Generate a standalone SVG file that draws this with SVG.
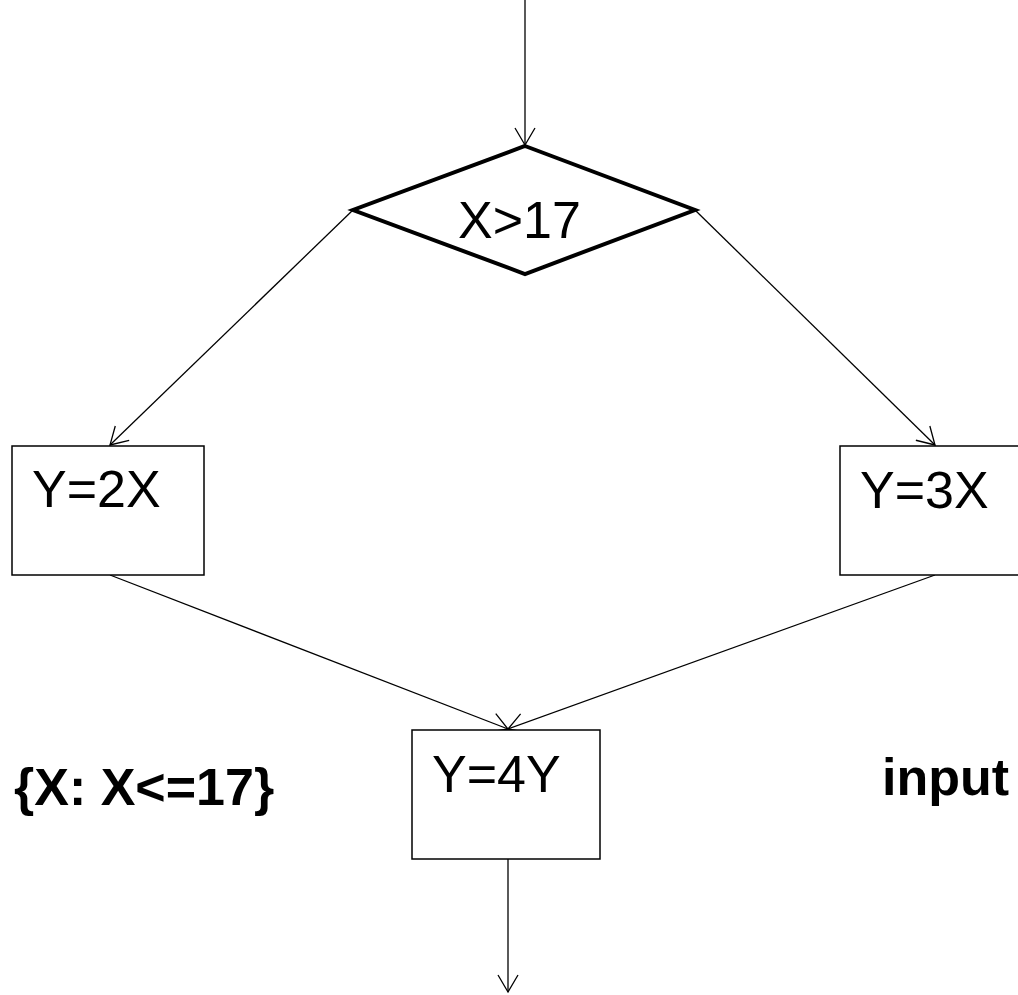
<svg xmlns="http://www.w3.org/2000/svg" width="1018" height="995" viewBox="0 0 1018 995">
<style>
.box{fill:#fff;stroke:#000;stroke-width:1.5}
.dia{fill:#fff;stroke:#000;stroke-width:4;stroke-linejoin:miter}
.con{fill:none;stroke:#000;stroke-width:1.3}
.t{font-family:"Liberation Sans",Arial,sans-serif;font-size:52px;fill:#000}
.b{font-family:"Liberation Sans",Arial,sans-serif;font-size:52px;font-weight:bold;fill:#000}
</style>
<defs>
<marker id="arr" markerUnits="userSpaceOnUse" markerWidth="40" markerHeight="40" viewBox="-20 -20 40 40" refX="0" refY="0" orient="auto" overflow="visible">
<path d="M-17,-10 L0,0 L-17,10" fill="none" stroke="#000" stroke-width="1.3"/>
</marker>
</defs>
<rect width="1018" height="995" fill="#fff"/>
<g id="connectors">
<line class="con" x1="525" y1="0" x2="525" y2="145" marker-end="url(#arr)"/>
<line class="con" x1="353" y1="210" x2="110" y2="445" marker-end="url(#arr)"/>
<line class="con" x1="695" y1="210" x2="935" y2="445" marker-end="url(#arr)"/>
<line class="con" x1="110" y1="575" x2="508" y2="729" marker-end="url(#arr)"/>
<line class="con" x1="935" y1="575" x2="508" y2="729" marker-end="url(#arr)"/>
<line class="con" x1="508" y1="859" x2="508" y2="992" marker-end="url(#arr)"/>
</g>
<g id="decision">
<polygon class="dia" points="525,146 695,210 525,274 353,210"/>
<text class="t" x="458" y="238">X&gt;17</text>
</g>
<g id="y2x">
<rect class="box" x="12" y="446" width="192" height="129"/>
<text class="t" x="32" y="507">Y=2X</text>
</g>
<g id="y3x">
<rect class="box" x="840" y="446" width="190" height="129"/>
<text class="t" x="860" y="508">Y=3X</text>
</g>
<g id="y4y">
<rect class="box" x="412" y="730" width="188" height="129"/>
<text class="t" x="432" y="792">Y=4Y</text>
</g>
<g id="labels">
<text class="b" x="14" y="805">{X: X&lt;=17}</text>
<text class="b" x="882" y="795">input</text>
</g>
</svg>
